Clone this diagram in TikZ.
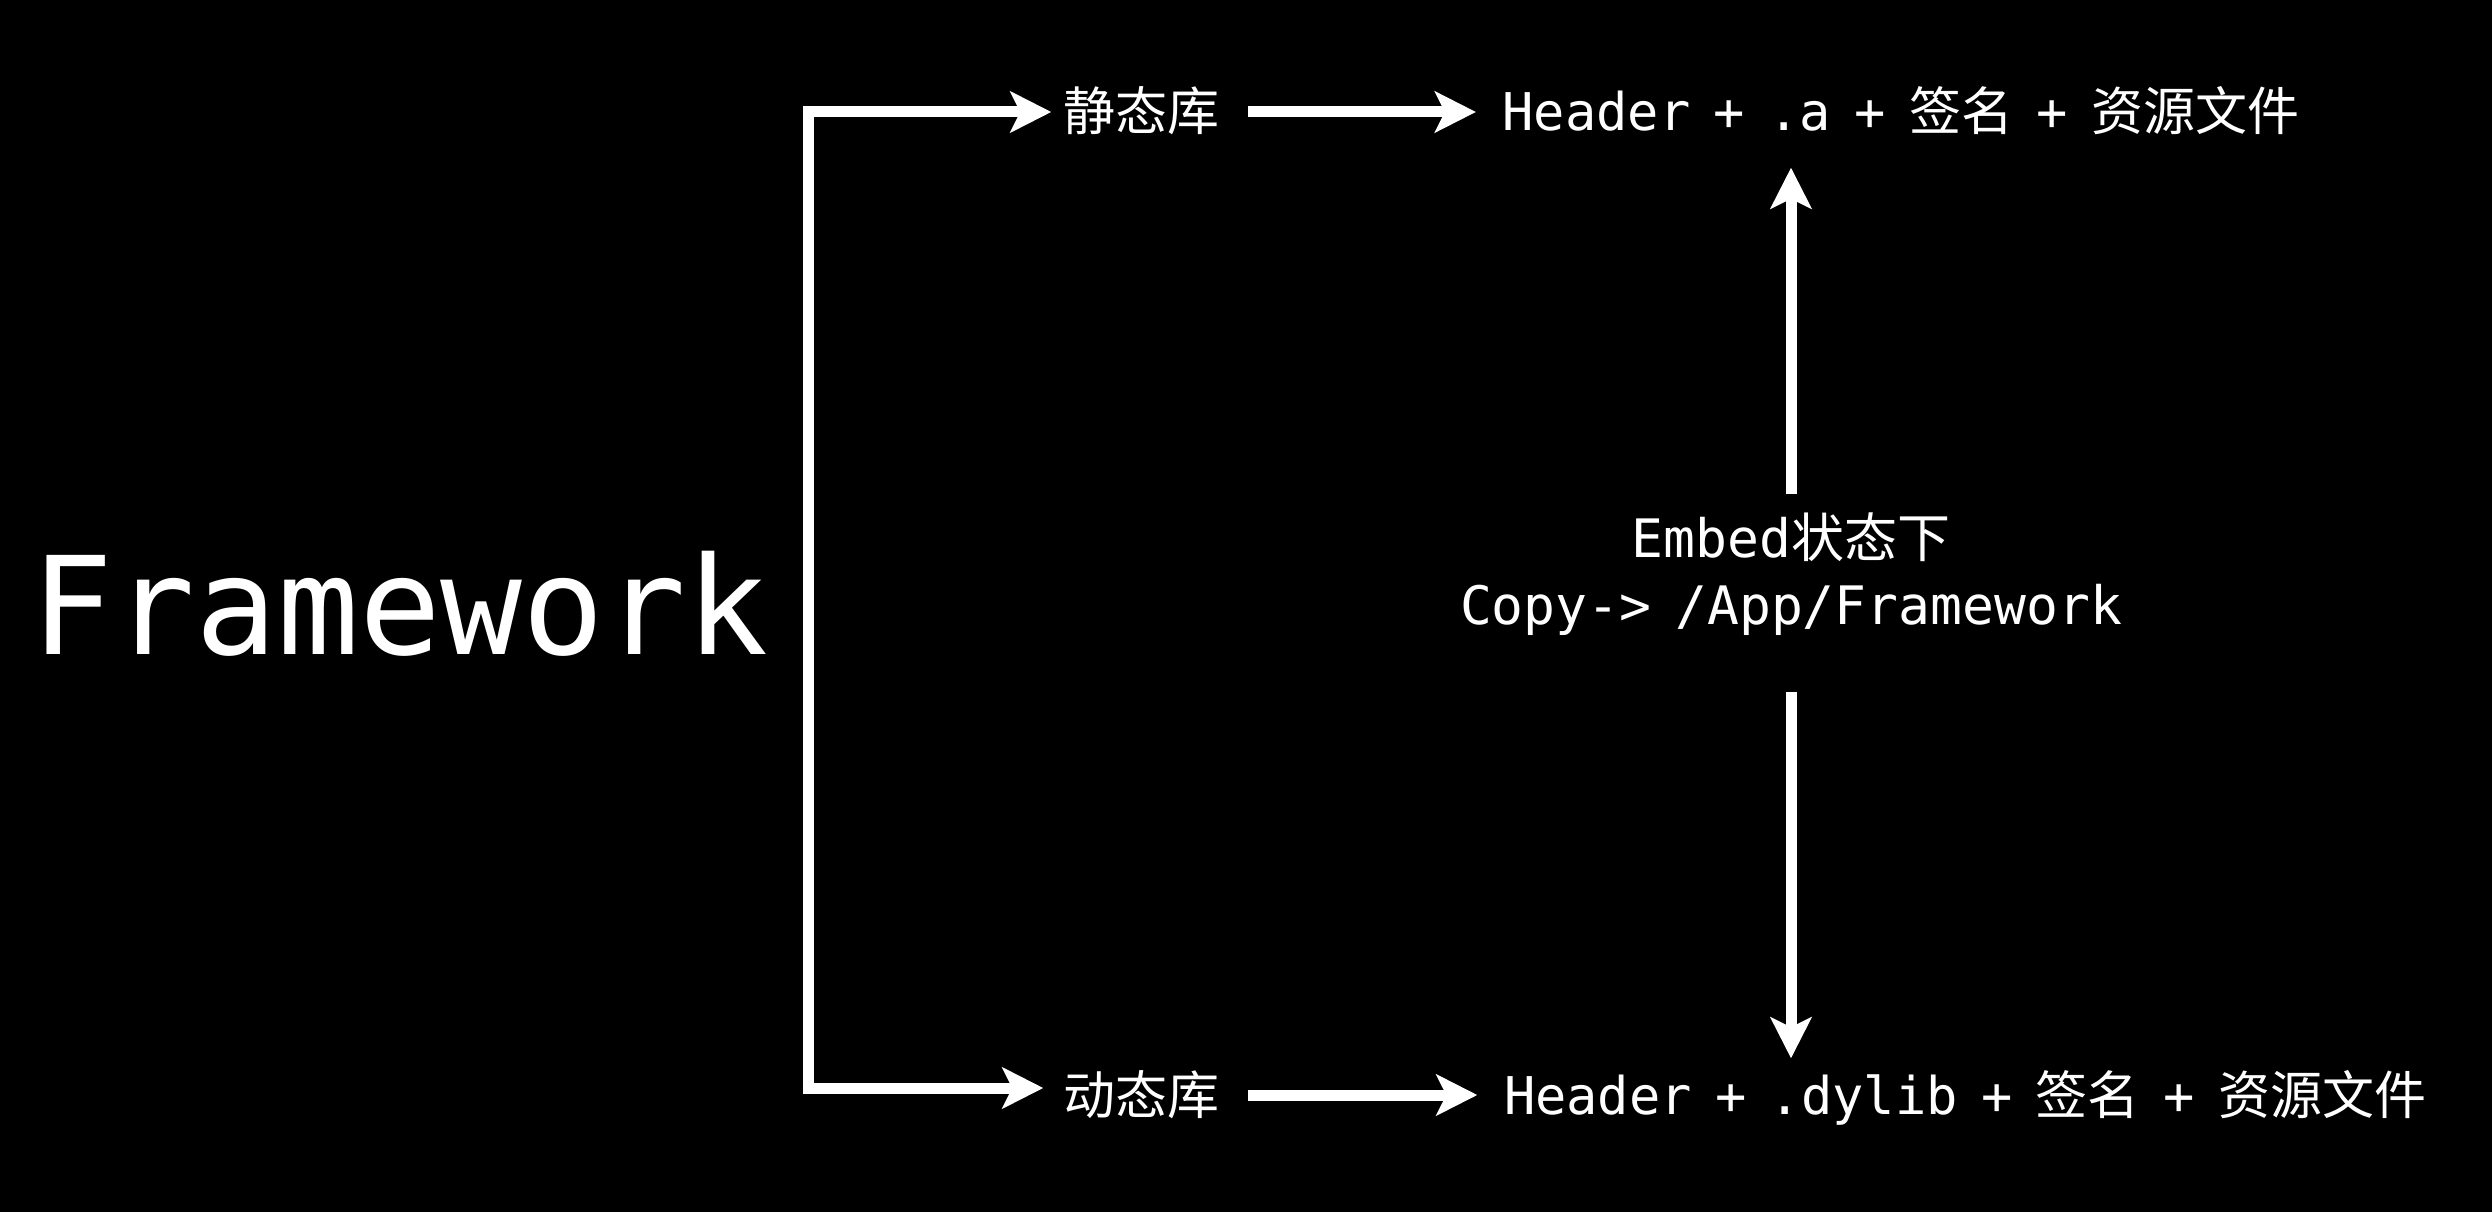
\documentclass[tikz,border=0pt]{standalone}
\usepackage{fontspec}
\setmainfont{DejaVu Sans Mono}
\newfontfamily\zhfont{Noto Sans CJK SC}
\newcommand{\zh}[1]{{\zhfont #1}}
\usetikzlibrary{arrows.meta}
\begin{document}
\begin{tikzpicture}[x=.1mm,y=-.1mm,
 >={Stealth[length=4.1mm,width=4.1mm,inset=1mm]},
 txt/.style={text=white,inner sep=0pt,text height=3.8mm,text depth=0pt,
  font=\fontsize{5.2mm}{6.7mm}\selectfont,execute at begin node={\spaceskip=.45em\relax}},
 arr/.style={draw=white,line width=1.1mm,->}]
\useasboundingbox (0,0) rectangle (2492,1212);
\fill[black] (0,0) rectangle (2492,1212);
\node[txt,text height=9.9mm,font=\fontsize{13.6mm}{16mm}\selectfont] (fw) at (400,605) {Framework};
\coordinate (spine) at (808,605);
\node[txt] (jt) at (1141,112) {\zh{静态库}};
\node[txt] (hdjt) at (1901,112) {Header + .a + \zh{签名} + \zh{资源文件}};
\node[txt] (dt) at (1141,1095) {\zh{动态库}};
\node[txt] (hddt) at (1965,1095) {Header + .dylib + \zh{签名} + \zh{资源文件}};
\foreach \nm in {jt,dt}{
 \draw[arr,shorten <=2.8mm,shorten >=2.6mm] (\nm.east) -- (\nm.east -| hd\nm.west);
}
\draw[arr,<->,shorten <=1.1mm,shorten >=1.9mm] (jt.west) -| (spine) |- ([yshift=.7mm]dt.west);
% Embed
\node[txt,font=\fontsize{5.3mm}{6.7mm}\selectfont,execute at begin node={}] (em1) at (1791,539) {Embed\zh{状态下}};
\node[txt,font=\fontsize{5.3mm}{6.7mm}\selectfont,execute at begin node={}] (em2) at (1791,606) {Copy-> /App/Framework};
\draw[arr,shorten <=2.5mm,shorten >=3.6mm] (em1.north) -- (em1.north |- hdjt.south);
\draw[arr,shorten <=6.6mm,shorten >=1.7mm] (em2.south) -- (em2.south |- hddt.north);
\end{tikzpicture}
\end{document}
